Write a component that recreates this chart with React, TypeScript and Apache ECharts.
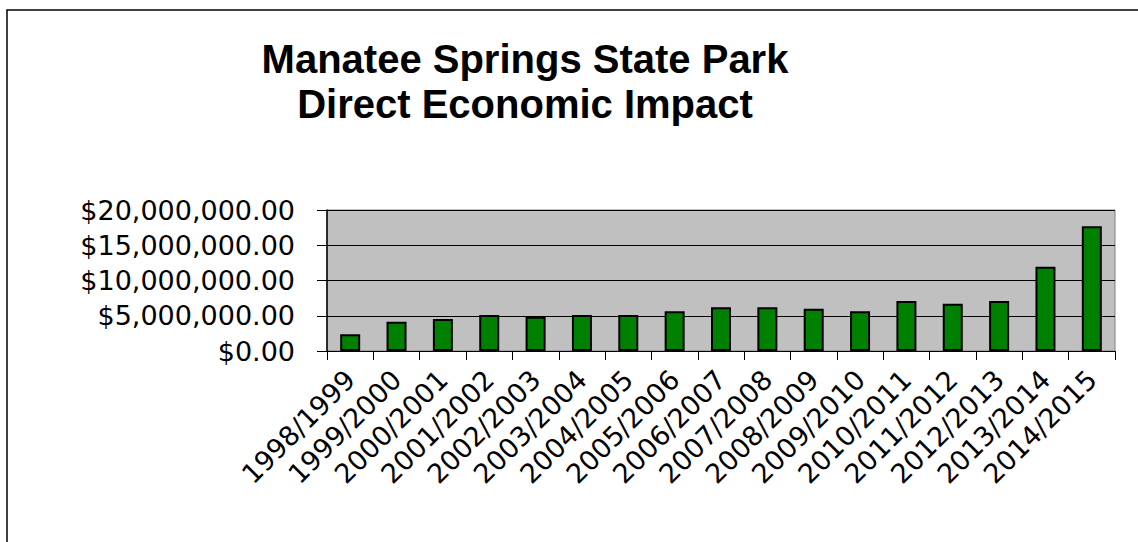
import React, { useEffect, useRef } from "react";
import * as echarts from "echarts";

const categories = [
  "1998/1999", "1999/2000", "2000/2001", "2001/2002", "2002/2003", "2003/2004",
  "2004/2005", "2005/2006", "2006/2007", "2007/2008", "2008/2009", "2009/2010",
  "2010/2011", "2011/2012", "2012/2013", "2013/2014", "2014/2015",
];
const impactValues = [
  2370000, 4160000, 4540000, 5100000, 4870000, 5100000, 5100000, 5630000, 6200000,
  6200000, 6000000, 5630000, 7100000, 6700000, 7100000, 11960000, 17700000,
];
const titleLines = ["Manatee Springs State Park", "Direct Economic Impact"];

const fmt = (v: number) =>
  "$" + v.toLocaleString("en-US", { minimumFractionDigits: 2, maximumFractionDigits: 2 });

export default function App() {
  const ref = useRef<HTMLDivElement>(null);
  useEffect(() => {
    document.body.style.margin = "0";
    const chart = echarts.init(ref.current!, null, { renderer: "svg" });
    const font = "'Liberation Sans', Arial, sans-serif";
    const axisFont = "'DejaVu Sans', sans-serif";
    chart.setOption({
      animation: false,
      backgroundColor: "#ffffff",
      graphic: [
        {
          type: "rect",
          shape: { x: 7, y: 10, width: 1300, height: 700 },
          style: { fill: "none", stroke: "#000", lineWidth: 1.5 },
          silent: true,
        },
        {
          type: "text",
          x: 525,
          y: 59,
          style: {
            text: titleLines[0],
            font: `bold 40px ${font}`,
            fill: "#000",
            textAlign: "center",
            textVerticalAlign: "middle",
          },
        },
        {
          type: "text",
          x: 525,
          y: 104,
          style: {
            text: titleLines[1],
            font: `bold 40px ${font}`,
            fill: "#000",
            textAlign: "center",
            textVerticalAlign: "middle",
          },
        },
      ],
      grid: {
        left: 327,
        right: 23,
        top: 210,
        bottom: 191,
        show: true,
        backgroundColor: "#C0C0C0",
        borderColor: "#808080",
        borderWidth: 1,
      },
      xAxis: {
        type: "category",
        data: categories,
        boundaryGap: true,
        axisLine: { show: true, lineStyle: { color: "#000", width: 1 } },
        axisTick: { show: true, length: 9, lineStyle: { color: "#000" }, alignWithLabel: false },
        axisLabel: {
          interval: 0,
          rotate: 45,
          margin: 24,
          fontSize: 27,
          fontFamily: axisFont,
          color: "#000",
        },
      },
      yAxis: {
        type: "value",
        min: 0,
        max: 20000000,
        interval: 5000000,
        axisLine: { show: true, lineStyle: { color: "#000", width: 1.5 } },
        axisTick: { show: true, length: 10, lineStyle: { color: "#000" } },
        splitLine: { show: true, lineStyle: { color: "#000", width: 1 } },
        axisLabel: {
          formatter: (v: number) => fmt(v),
          margin: 32,
          fontSize: 27,
          fontFamily: axisFont,
          color: "#000",
        },
      },
      series: [
        {
          type: "bar",
          data: impactValues,
          barWidth: 20,
          itemStyle: { color: "#008000", borderColor: "#000", borderWidth: 2 },
        },
      ],
    });
    return () => chart.dispose();
  }, []);
  return <div ref={ref} style={{ width: 1138, height: 542 }} />;
}
